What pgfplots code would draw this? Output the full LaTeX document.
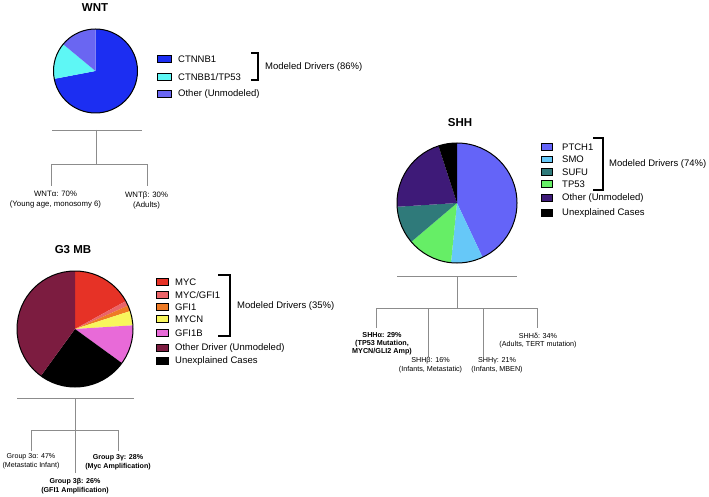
\documentclass[border=0pt]{standalone}
\usepackage{pgfplots}
\pgfplotsset{compat=1.18}
\usepackage{pgfplotstable}
\usepackage{fontspec}
\setmainfont{Liberation Sans}

\definecolor{ctnnb}{HTML}{1C2EF2}
\definecolor{ctnbbtp}{HTML}{5EF7F5}
\definecolor{wntoth}{HTML}{6A66F2}
\definecolor{myc}{HTML}{E63226}
\definecolor{mycgfi}{HTML}{EA6468}
\definecolor{gfi}{HTML}{EE7A24}
\definecolor{mycn}{HTML}{F8F65C}
\definecolor{gfib}{HTML}{E86AD8}
\definecolor{gthoth}{HTML}{7C1C40}
\definecolor{ptch}{HTML}{6464F8}
\definecolor{smo}{HTML}{66C8F8}
\definecolor{sufu}{HTML}{2F7A7A}
\definecolor{tpf}{HTML}{66EE66}
\definecolor{shhoth}{HTML}{3E1A78}
\definecolor{treegray}{HTML}{8C8C8C}

% shares in percent, clockwise from 12 o'clock
\pgfplotstableread{
share col
72 ctnnb
14 ctnbbtp
14 wntoth
}\wnttab
\pgfplotstableread{
share col
17 myc
1.4 mycgfi
1.6 gfi
4 mycn
11 gfib
25 black
40 gthoth
}\gthtab
\pgfplotstableread{
share col
43 ptch
8.6 smo
12.2 tpf
10.2 sufu
21 shhoth
5 black
}\shhtab

% #1 table, #2 radius (pt)
\newcommand{\pieslices}[2]{%
  \pgfplotstablegetrowsof{#1}%
  \pgfmathtruncatemacro\lastrow{\pgfplotsretval-1}%
  \xdef\curang{90}%
  \foreach \i in {0,...,\lastrow}{%
    \pgfplotstablegetelem{\i}{share}\of{#1}\let\share\pgfplotsretval
    \pgfplotstablegetelem{\i}{col}\of{#1}\let\slicecol\pgfplotsretval
    \pgfmathsetmacro\endang{\curang-3.6*\share}%
    \edef\doslice{\noexpand\fill[\slicecol] (axis cs:0,0) -- ++(\curang:#2pt)
      arc[start angle=\curang,end angle=\endang,radius=#2pt] -- cycle;}%
    \doslice
    \xdef\curang{\endang}%
  }%
  \draw[black,line width=1pt] (axis cs:0,0) circle[radius=#2pt];
}

\pgfplotsset{pie/.style={hide axis,scale only axis,clip=false,anchor=center,
  xmin=-1,xmax=1,ymin=-1,ymax=1}}

\newcommand{\legfont}{\fontsize{9.5}{11}\selectfont}
\newcommand{\titfont}{\bfseries\fontsize{11.5}{13}\selectfont}
\def\bw{12}\def\bh{7}\def\tx{19}
\newcommand{\legbox}[4]{%
  \filldraw[fill=#3,draw=black,line width=0.7pt] (#1,#2) ++(0,-\bh/2) rectangle ++(\bw,\bh);
  \node[anchor=west,font=\legfont,inner sep=0pt] at (#1+\tx,#2) {#4};}

\begin{document}
\begin{tikzpicture}[x=1pt,y=-1pt]
\path[use as bounding box] (0,0) rectangle (709,497);

% ---------- WNT
\node[font=\titfont] at (95,8) {WNT};
\begin{axis}[pie,width=84pt,height=84pt,at={(95.5pt,-71pt)}]
\pieslices{\wnttab}{42}
\end{axis}
\def\bw{14}\def\bh{7.5}\def\tx{21}
\legbox{157}{59}{ctnnb}{CTNNB1}
\legbox{157}{77}{ctnbbtp}{CTNBB1/TP53}
\legbox{157}{94}{wntoth}{Other (Unmodeled)}
\draw[line width=1.2pt] (251,53) -- (258,53) -- (258,80) -- (251,80);
\node[anchor=west,font=\legfont,inner sep=0pt] at (265,67) {Modeled Drivers (86\%)};
\draw[treegray,line width=0.8pt] (52,130) -- (142,130) (96,130) -- (96,164)
  (51,186) -- (51,164) -- (147,164) -- (147,186);
\begin{scope}[every node/.style={font=\fontsize{7.8}{10}\selectfont,align=center,inner sep=0pt}]
\node at (55.5,200) {WNTα: 70\%\\(Young age, monosomy 6)};
\node at (146.5,200) {WNTβ: 30\%\\(Adults)};
\end{scope}

% ---------- G3 MB
\node[font=\titfont] at (73,250) {G3 MB};
\begin{axis}[pie,width=116pt,height=116pt,at={(75pt,-329pt)}]
\pieslices{\gthtab}{58}
\end{axis}
\def\bw{12}\def\bh{7}\def\tx{19}
\legbox{156}{282}{myc}{MYC}
\legbox{156}{295}{mycgfi}{MYC/GFI1}
\legbox{156}{307}{gfi}{GFI1}
\legbox{156}{319}{mycn}{MYCN}
\legbox{156}{333}{gfib}{GFI1B}
\legbox{156}{348}{gthoth}{Other Driver (Unmodeled)}
\legbox{156}{361}{black}{Unexplained Cases}
\draw[line width=1.2pt] (218,275) -- (230,275) -- (230,336) -- (218,336);
\node[anchor=west,font=\legfont,inner sep=0pt] at (237,306) {Modeled Drivers (35\%)};
\draw[treegray,line width=0.8pt] (17,398) -- (134,398) (75,398) -- (75,473)
  (31,451) -- (31,430) -- (118,430) -- (118,451);
\begin{scope}[every node/.style={font=\fontsize{7.1}{8.8}\selectfont,align=center,inner sep=0pt}]
\node at (31,461) {Group 3α: 47\%\\(Metastatic Infant)};
\node[font=\bfseries\fontsize{7.1}{8.8}\selectfont] at (118,462.5) {Group 3γ: 28\%\\(Myc Amplification)};
\node[font=\bfseries\fontsize{7.1}{8.8}\selectfont] at (75,486.5) {Group 3β: 26\%\\(GFI1 Amplification)};
\end{scope}

% ---------- SHH
\node[font=\titfont] at (460,123) {SHH};
\begin{axis}[pie,width=120pt,height=120pt,at={(457pt,-203pt)}]
\pieslices{\shhtab}{60}
\end{axis}
\def\bw{11}\def\bh{6.5}\def\tx{21}
\legbox{541}{147}{ptch}{PTCH1}
\legbox{541}{159.5}{smo}{SMO}
\legbox{541}{172}{sufu}{SUFU}
\legbox{541}{184}{tpf}{TP53}
\legbox{541}{198}{shhoth}{Other (Unmodeled)}
\legbox{541}{213}{black}{Unexplained Cases}
\draw[line width=1.2pt] (593,138) -- (603,138) -- (603,190) -- (593,190);
\node[anchor=west,font=\legfont,inner sep=0pt] at (609,164) {Modeled Drivers (74\%)};
\draw[treegray,line width=0.8pt] (397,276) -- (517,276) (457,276) -- (457,308)
  (376,328) -- (376,308) -- (537,308) -- (537,328)
  (428,308) -- (428,357) (483,308) -- (483,357);
\begin{scope}[every node/.style={font=\fontsize{7.2}{8.5}\selectfont,align=center,inner sep=0pt}]
\node[font=\bfseries\fontsize{7.2}{8.2}\selectfont] at (382,344) {SHHα: 29\%\\(TP53 Mutation,\\MYCN/GLI2 Amp)};
\node at (430.5,365) {SHHβ: 16\%\\(Infants, Metastatic)};
\node at (497,365) {SHHγ: 21\%\\(Infants, MBEN)};
\node at (538,340.5) {SHHδ: 34\%\\(Adults, TERT mutation)};
\end{scope}
\end{tikzpicture}
\end{document}
